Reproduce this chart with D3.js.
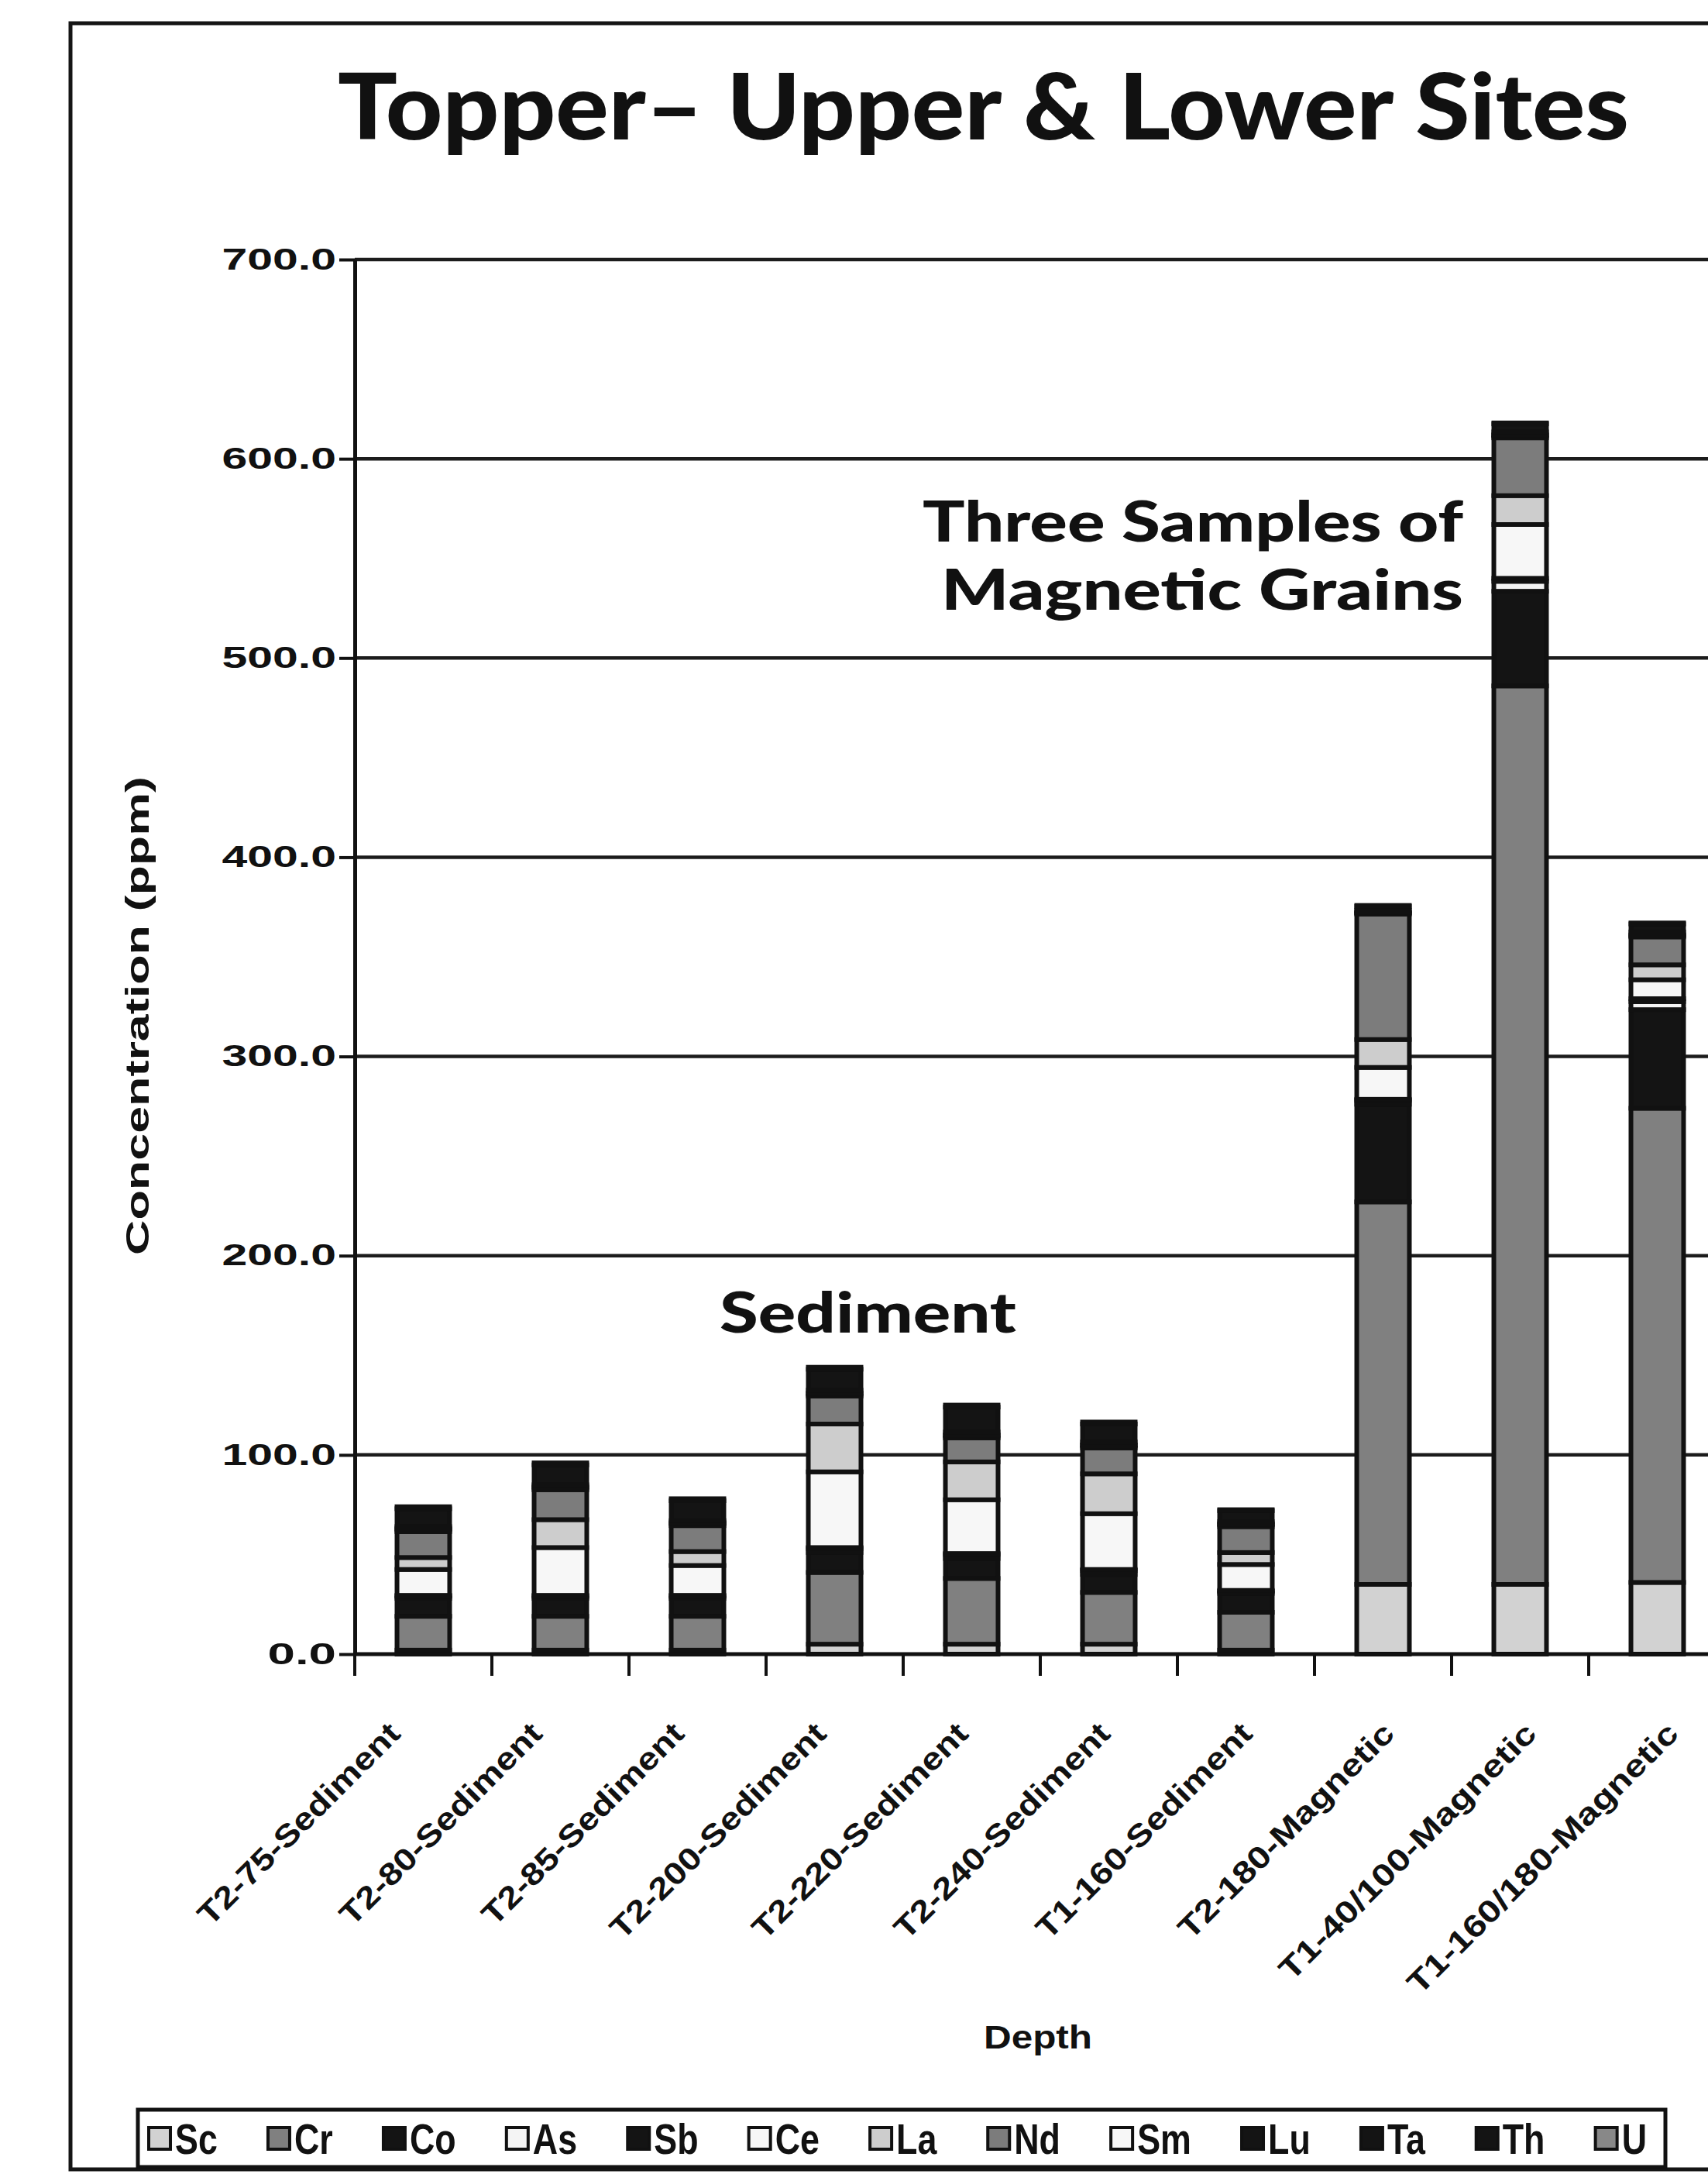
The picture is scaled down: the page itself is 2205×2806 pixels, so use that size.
<!DOCTYPE html>
<html>
<head>
<meta charset="utf-8">
<script src="https://cdn.jsdelivr.net/npm/d3@7"></script>
<style>
  body { margin: 0; background: #fff; }
  text { fill: #111; }
</style>
</head>
<body>
<svg id="chart" width="2205" height="2806"></svg>
<script>
// sample names along the x axis
var samples = ["T2-75-Sediment", "T2-80-Sediment", "T2-85-Sediment", "T2-200-Sediment", "T2-220-Sediment",
  "T2-240-Sediment", "T1-160-Sediment", "T2-180-Magnetic", "T1-40/100-Magnetic", "T1-160/180-Magnetic"];

// element series, bottom of the stack first (ppm)
var elements = ["Sc", "Cr", "Co", "As", "Sb", "Ce", "La", "Nd", "Sm", "Lu", "Ta", "Th", "U"];
var Sc = [2, 2, 2, 5, 5, 5, 2, 35, 35, 36];
var Cr = [17, 17, 17, 36, 33, 26, 19, 192, 451, 238];
var Co = [9, 9, 9, 10, 10, 9, 9.5, 49, 47.5, 49.5];
var As = [1, 1, 1, 2, 2, 2, 1, 2, 5, 4];
var Sb = [0.5, 0.5, 0.5, 0.5, 0.5, 0.5, 0.5, 0.5, 1.5, 1.5];
var Ce = [13, 24, 15, 38, 27, 28, 13, 16, 27, 9.5];
var La = [6, 14, 7, 24, 19, 20, 6, 14, 14.5, 7.5];
var Nd = [13, 15, 13, 14, 12, 13, 13, 63, 29, 14];
var Sm = [1, 1, 1, 1, 1, 1, 1, 0.5, 1, 0.5];
var Lu = [0.5, 0.5, 0.5, 0.5, 0.5, 0.5, 0.5, 0.3, 0.5, 0.5];
var Ta = [1, 1, 1, 1.5, 1.5, 1.5, 1, 1, 1.5, 1.5];
var Th = [9, 10, 10, 10.5, 12.5, 9, 5.5, 2, 4, 4];
var U = [1, 1, 1, 1, 1, 1, 0.5, 0.5, 0.5, 0.5];
var series = [Sc, Cr, Co, As, Sb, Ce, La, Nd, Sm, Lu, Ta, Th, U];

// grey shades of the printed legend
var shades = ["#d2d2d2", "#808080", "#141414", "#f4f4f4", "#141414", "#f7f7f7", "#cdcdcd",
  "#7c7c7c", "#f7f7f7", "#141414", "#141414", "#141414", "#888888"];

var yTicks = [0, 100, 200, 300, 400, 500, 600, 700];

var W = 2205, H = 2806;
var svg = d3.select("#chart");
var sans = "'Liberation Sans', Arial, sans-serif";
var heavy = "Lato, 'Open Sans', sans-serif";

svg.append("rect").attr("width", W).attr("height", H).attr("fill", "#fff");

// outer frame of the chart (runs off the right edge like the scan)
svg.append("rect")
  .attr("x", 91).attr("y", 30).attr("width", 2400).attr("height", 2770)
  .attr("fill", "none").attr("stroke", "#151515").attr("stroke-width", 5);

var plotLeft = 458, plotBottom = 2135, plotTop = 335;

var x = d3.scaleBand().domain(samples).range([plotLeft, 2228])
  .paddingInner(0.616).paddingOuter(0.308);
var y = d3.scaleLinear().domain([0, 700]).range([plotBottom, plotTop]);
// the printed labels sit on a slightly wider spread than the columns
var labelX = d3.scalePoint().domain(samples).range([519, 2169]);

// gridlines
svg.append("g").selectAll("line").data(yTicks.slice(1)).enter().append("line")
  .attr("x1", plotLeft).attr("x2", W)
  .attr("y1", function (d) { return y(d); }).attr("y2", function (d) { return y(d); })
  .attr("stroke", "#1c1c1c").attr("stroke-width", 4.5);

// stacked columns
var table = samples.map(function (s, i) {
  var row = { sample: s };
  elements.forEach(function (e, j) { row[e] = series[j][i]; });
  return row;
});
var layers = d3.stack().keys(elements)(table);

svg.append("g").selectAll("g").data(layers).enter().append("g")
  .attr("fill", function (d, i) { return shades[i]; })
  .selectAll("rect").data(function (d) { return d; }).enter().append("rect")
  .attr("x", function (d) { return x(d.data.sample); })
  .attr("width", x.bandwidth())
  .attr("y", function (d) { return y(d[1]); })
  .attr("height", function (d) { return y(d[0]) - y(d[1]); })
  .attr("stroke", "#111").attr("stroke-width", 6);

// y axis
var yAxis = d3.axisLeft(y).tickValues(yTicks).tickFormat(d3.format(".1f"))
  .tickSize(20).tickSizeOuter(0).tickPadding(4);
var gy = svg.append("g").attr("transform", "translate(" + plotLeft + ",0)").call(yAxis);
gy.select(".domain").attr("stroke", "#111").attr("stroke-width", 5);
gy.selectAll(".tick line").attr("stroke", "#111").attr("stroke-width", 4);
gy.selectAll(".tick text")
  .attr("font-family", sans).attr("font-weight", "bold").attr("font-size", 38)
  .attr("textLength", function (d) { return d3.format(".1f")(d).length * 29.5; })
  .attr("lengthAdjust", "spacingAndGlyphs").attr("fill", "#111");

// x axis line and category ticks
svg.append("line").attr("x1", plotLeft - 2).attr("x2", W)
  .attr("y1", plotBottom).attr("y2", plotBottom)
  .attr("stroke", "#111").attr("stroke-width", 5);
svg.append("g").selectAll("line").data(d3.range(samples.length + 1)).enter().append("line")
  .attr("x1", function (i) { return plotLeft + i * x.step(); })
  .attr("x2", function (i) { return plotLeft + i * x.step(); })
  .attr("y1", plotBottom).attr("y2", plotBottom + 28)
  .attr("stroke", "#111").attr("stroke-width", 4);

// rotated sample labels
svg.append("g").selectAll("text").data(samples).enter().append("text")
  .attr("transform", function (d) {
    return "translate(" + labelX(d) + "," + 2240 + ") rotate(-45)";
  })
  .attr("text-anchor", "end")
  .attr("font-family", sans).attr("font-weight", "bold").attr("font-size", 40)
  .attr("textLength", function (d) { return d.length * 25; })
  .attr("lengthAdjust", "spacingAndGlyphs")
  .text(function (d) { return d; });

// axis titles
svg.append("text").attr("x", 1340).attr("y", 2644).attr("text-anchor", "middle")
  .attr("font-family", sans).attr("font-weight", "bold").attr("font-size", 42)
  .attr("textLength", 140).attr("lengthAdjust", "spacingAndGlyphs")
  .text("Depth");
svg.append("text").attr("transform", "translate(192,1311) rotate(-90)").attr("text-anchor", "middle")
  .attr("font-family", sans).attr("font-weight", "bold").attr("font-size", 42)
  .attr("textLength", 618).attr("lengthAdjust", "spacingAndGlyphs")
  .text("Concentration (ppm)");

// title and annotations
svg.append("text").attr("x", 436).attr("y", 180)
  .attr("font-family", heavy).attr("font-weight", 900).attr("font-size", 118)
  .attr("textLength", 1667).attr("lengthAdjust", "spacingAndGlyphs")
  .text("Topper\u2013 Upper & Lower Sites");

var notes = [
  { text: "Three Samples of", x: 1889, y: 699, len: 698 },
  { text: "Magnetic Grains", x: 1889, y: 787, len: 674 },
  { text: "Sediment", x: 1312, y: 1720, len: 383 }
];
svg.append("g").selectAll("text").data(notes).enter().append("text")
  .attr("x", function (d) { return d.x; }).attr("y", function (d) { return d.y; })
  .attr("text-anchor", "end")
  .attr("font-family", heavy).attr("font-weight", 900).attr("font-size", 72)
  .attr("textLength", function (d) { return d.len; }).attr("lengthAdjust", "spacingAndGlyphs")
  .text(function (d) { return d.text; });

// legend
var legendBox = { x: 178, y: 2723, w: 1972, h: 74 };
svg.append("rect").attr("x", legendBox.x).attr("y", legendBox.y)
  .attr("width", legendBox.w).attr("height", legendBox.h)
  .attr("fill", "#fff").attr("stroke", "#111").attr("stroke-width", 5);

var box = 28, gapText = 6;
var lg = svg.append("g");
var items = lg.selectAll("g").data(elements).enter().append("g");
items.append("rect").attr("width", box).attr("height", box).attr("y", -box / 2)
  .attr("fill", function (d, i) { return shades[i]; })
  .attr("stroke", "#111").attr("stroke-width", 4);
var labels = items.append("text").attr("x", box + gapText).attr("dy", "0.36em")
  .attr("font-family", sans).attr("font-weight", "bold").attr("font-size", 56)
  .text(function (d) { return d; });
// condense the legend words like the printed ones
labels.each(function () {
  d3.select(this).attr("textLength", this.getComputedTextLength() * 0.8)
    .attr("lengthAdjust", "spacingAndGlyphs");
});

var widths = [];
items.each(function () { widths.push(this.getBBox().width); });
var inner0 = legendBox.x + 14, inner1 = legendBox.x + legendBox.w - 24;
var spare = (inner1 - inner0 - d3.sum(widths)) / (elements.length - 1);
var pos = inner0;
items.attr("transform", function (d, i) {
  var t = "translate(" + pos + "," + (legendBox.y + legendBox.h / 2) + ")";
  pos += widths[i] + spare;
  return t;
});
</script>
</body>
</html>
